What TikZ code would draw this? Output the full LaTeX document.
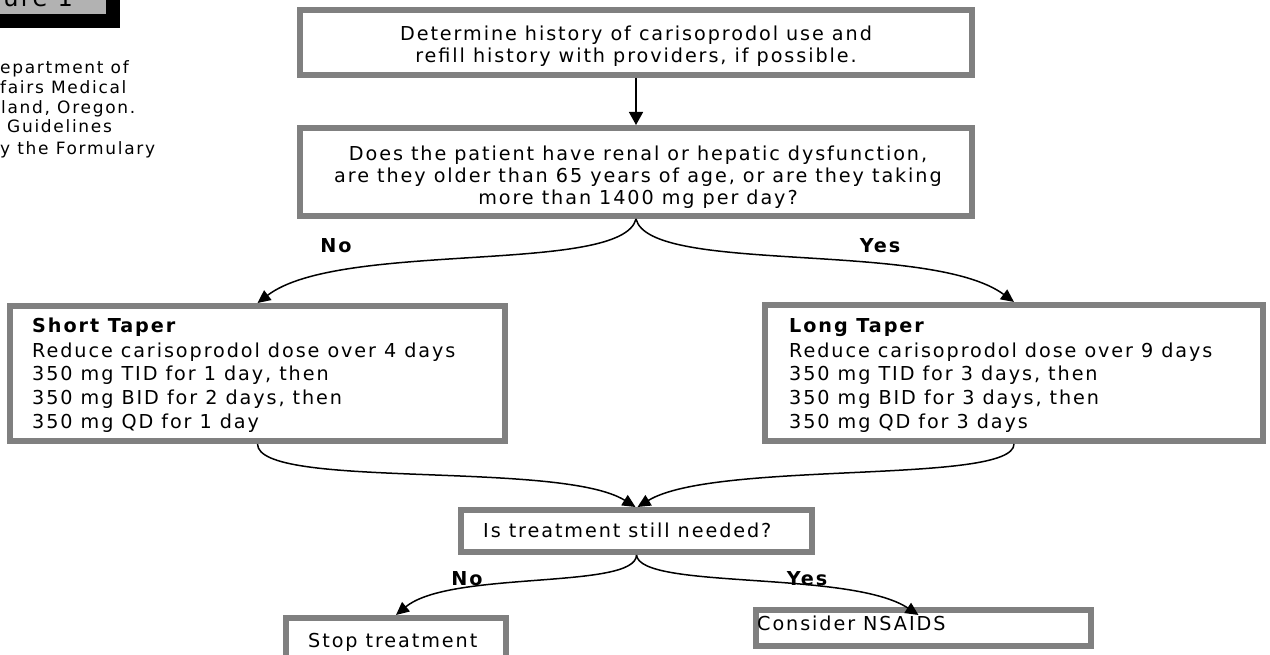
\documentclass[tikz,border=0pt]{standalone}
\usepackage{fontspec}
\setmainfont{DejaVu Sans}[LetterSpace=10]
\usetikzlibrary{arrows.meta,calc}
\definecolor{bordergray}{RGB}{128,128,128}
\definecolor{figgray}{RGB}{178,178,178}
\newcommand{\flowsize}{\fontsize{19.2pt}{24pt}\selectfont}
\newcommand{\sidesize}{\fontsize{17pt}{20pt}\selectfont}
\begin{document}
\begin{tikzpicture}[x=1pt,y=-1pt,
  box/.style={draw=bordergray, line width=6pt, fill=white, rectangle, inner sep=0pt},
  txt/.style={inner sep=0pt, font=\flowsize},
  lbl/.style={inner sep=0pt, font=\flowsize\bfseries, anchor=base},
  side/.style={inner sep=0pt, font=\sidesize, anchor=base west},
  conn/.style={line width=1.5pt, -{Triangle[length=13pt,width=12pt]}}]
\useasboundingbox (0,0) rectangle (1270,655);
\clip (0,0) rectangle (1270,655);
\fill[white] (0,0) rectangle (1270,655);
% figure label (cropped)
\fill[black] (-10,-10) rectangle (120,28);
\fill[figgray] (-10,-10) rectangle (106,14);
\node[inner sep=0pt, font=\fontsize{24pt}{28pt}\selectfont, anchor=base east] (fig) at (73,7) {ure 1};
% side text (cropped)
\node[side] (s1) at (0,74) {epartment of};
\node[side] (s2) at (0,94) {fairs Medical};
\node[side] (s3) at (1,114) {land, Oregon.};
\node[side] (s4) at (7,133) {Guidelines};
\node[side] (s5) at (0,155) {y the Formulary};
% boxes
\node[box, minimum width=672pt, minimum height=65pt] (b1) at (636,42.5) {};
\node[box, minimum width=672pt, minimum height=88pt] (b2) at (636,172) {};
\node[box, minimum width=495pt, minimum height=135pt] (st) at (257.5,373.5) {};
\node[box, minimum width=498pt, minimum height=136pt] (lt) at (1014,373) {};
\node[box, minimum width=351pt, minimum height=42pt] (it) at (636.5,531) {};
\node[box, minimum width=220pt, minimum height=47pt] (stop) at (396,641.5) {};
\node[box, minimum width=335pt, minimum height=36pt] (ns) at (923.5,628) {};
% texts
\node[txt, anchor=base] (b1a) at (636,41) {Determine history of carisoprodol use and};
\node[txt, anchor=base] (b1b) at (636,63) {refill history with providers, if possible.};
\node[txt, anchor=base] (b2a) at (638,161) {Does the patient have renal or hepatic dysfunction,};
\node[txt, anchor=base] (b2b) at (638,183) {are they older than 65 years of age, or are they taking};
\node[txt, anchor=base] (b2c) at (638,205) {more than 1400 mg per day?};
\node[txt, anchor=base west, font=\flowsize\bfseries] (st1) at (32,333) {Short Taper};
\node[txt, anchor=base west] (st2) at (32,357) {Reduce carisoprodol dose over 4 days};
\node[txt, anchor=base west] (st3) at (32,381) {350 mg TID for 1 day, then};
\node[txt, anchor=base west] (st4) at (32,404.5) {350 mg BID for 2 days, then};
\node[txt, anchor=base west] (st5) at (32,428) {350 mg QD for 1 day};
\node[txt, anchor=base west, font=\flowsize\bfseries] (lt1) at (789,333) {Long Taper};
\node[txt, anchor=base west] (lt2) at (789,357) {Reduce carisoprodol dose over 9 days};
\node[txt, anchor=base west] (lt3) at (789,381) {350 mg TID for 3 days, then};
\node[txt, anchor=base west] (lt4) at (789,404.5) {350 mg BID for 3 days, then};
\node[txt, anchor=base west] (lt5) at (789,428) {350 mg QD for 3 days};
\node[txt, anchor=base west] (itt) at (483,537.5) {Is treatment still needed?};
\node[txt, anchor=base west] (stopt) at (308,647) {Stop treatment};
\node[txt, anchor=base west] (nst) at (757,630) {Consider NSAIDS};
% labels
\node[lbl] (no1) at (336,253) {No};
\node[lbl] (yes1) at (880,253) {Yes};
\node[lbl] (no2) at (467,585.5) {No};
\node[lbl] (yes2) at (807,585.5) {Yes};
% connectors
\draw[line width=1.5pt, -{Triangle[length=13pt,width=14pt]}] (b1.south) -- (b2.north);
\draw[conn] (b2.south) .. controls (622,275) and (340,240) .. (st.north);
\draw[conn] (b2.south) .. controls (650,275) and (930,240) .. (lt.north);
\draw[conn] (st.south) .. controls (258,490) and (560,460) .. ([xshift=-1pt]it.north);
\draw[conn] (lt.south) .. controls (1014,485) and (715,460) .. ([xshift=1pt]it.north);
\draw[conn] (it.south) .. controls (636,590) and (450,570) .. (stop.north);
\draw[conn] (it.south) .. controls (640,590) and (850,570) .. ($(ns.north)+(-5,8)$);
\end{tikzpicture}
\end{document}
